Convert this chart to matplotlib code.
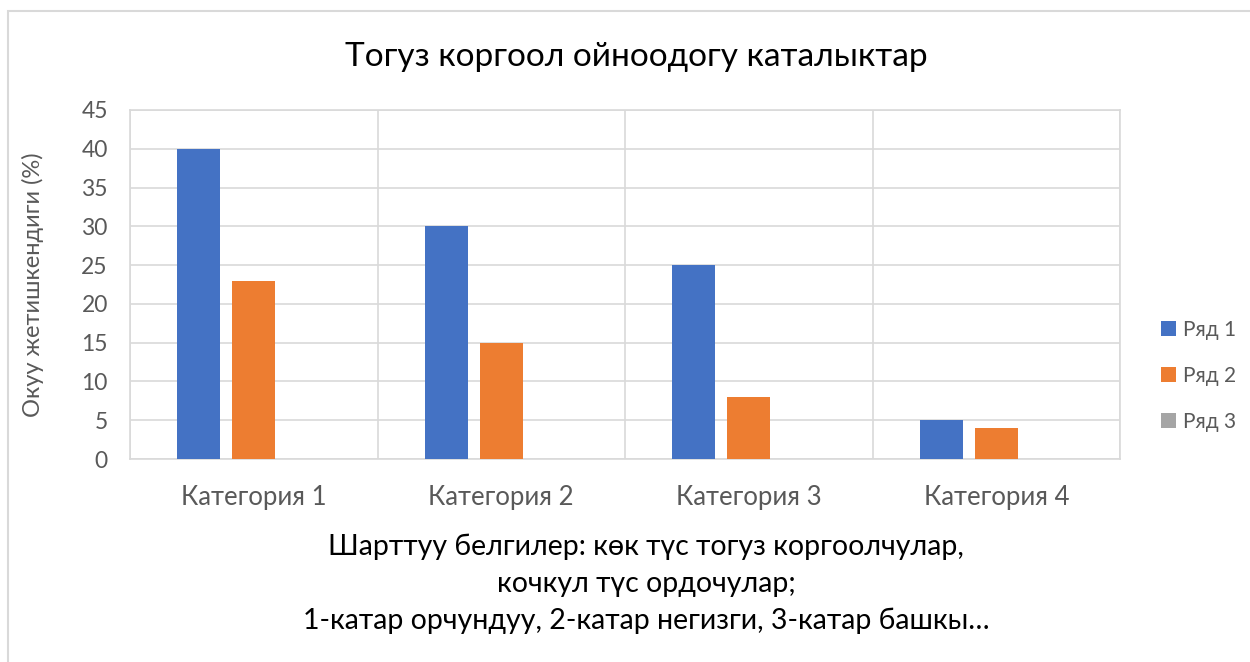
import matplotlib
matplotlib.use("Agg")
import matplotlib.pyplot as plt
import numpy as np
from matplotlib.patches import Rectangle

categories = ["Категория 1", "Категория 2", "Категория 3", "Категория 4"]
series_names = ["Ряд 1", "Ряд 2", "Ряд 3"]
series1 = [40, 30, 25, 5]
series2 = [23, 15, 8, 4]
series3 = [0, 0, 0, 0]
colors = ["#4472C4", "#ED7D31", "#A5A5A5"]
yticks = [0, 5, 10, 15, 20, 25, 30, 35, 40, 45]

title = "Тогуз коргоол ойноодогу каталыктар"
ylabel = "Окуу жетишкендиги (%)"
caption = ["Шарттуу белгилер: көк түс тогуз коргоолчулар,",
           "кочкул түс ордочулар;",
           "1-катар орчундуу, 2-катар негизги, 3-катар башкы…"]

plt.rcParams['font.family'] = ['Lato', 'DejaVu Sans']

fig = plt.figure(figsize=(12.5, 6.62), dpi=100)
W, H = 1250, 662
ax = fig.add_axes([130 / W, 1 - 459 / H, (1120 - 130) / W, (459 - 110) / H])

x = np.arange(len(categories))
width = 0.174
step = 0.222
for i, (vals, name) in enumerate(zip([series1, series2, series3], series_names)):
    ax.bar(x + (i - 1) * step, vals, width, color=colors[i], label=name, zorder=3)

ax.set_xlim(-0.5, len(categories) - 0.5)
ax.set_ylim(0, 45)
ax.set_yticks(yticks)
ax.set_xticks(x)
ax.set_xticklabels(categories)
ax.set_xticks(np.arange(-0.5, len(categories), 1.0), minor=True)
ax.grid(axis='y', which='major', color='#D9D9D9', lw=1.2, zorder=0)
ax.grid(axis='x', which='minor', color='#D9D9D9', lw=1.2, zorder=0)
ax.grid(axis='x', which='major', visible=False)
for s in ax.spines.values():
    s.set_color('#D9D9D9')
    s.set_linewidth(1.2)
ax.tick_params(axis='both', which='both', length=0, labelcolor='#595959')
ax.tick_params(axis='x', pad=19, labelsize=18.5)
ax.tick_params(axis='y', pad=16, labelsize=16.5)

ax.set_ylabel(ylabel, fontsize=17, color='#595959')
ax.yaxis.set_label_coords((44 - 130) / 990, 0.5)

fig.text(636 / W, 1 - 57 / H, title, ha='center', va='center', fontsize=24, color='black')
for k, line in enumerate(caption):
    fig.text(646 / W, 1 - (547 + 37 * k) / H, line, ha='center', va='center', fontsize=20.5, color='black')

leg = ax.legend(loc='center left', bbox_to_anchor=(1142 / W, 1 - 376 / H),
                bbox_transform=fig.transFigure, frameon=False, fontsize=15,
                handlelength=0.75, handleheight=0.75, labelspacing=1.25, handletextpad=0.3)
for t in leg.get_texts():
    t.set_color('#595959')

fig.patches.append(Rectangle((8 / W, -0.1), 1.5, 1 - 11 / H + 0.1, transform=fig.transFigure,
                             fill=False, edgecolor='#D9D9D9', lw=1.5))

fig.savefig("out.png", dpi=100, facecolor='white')
